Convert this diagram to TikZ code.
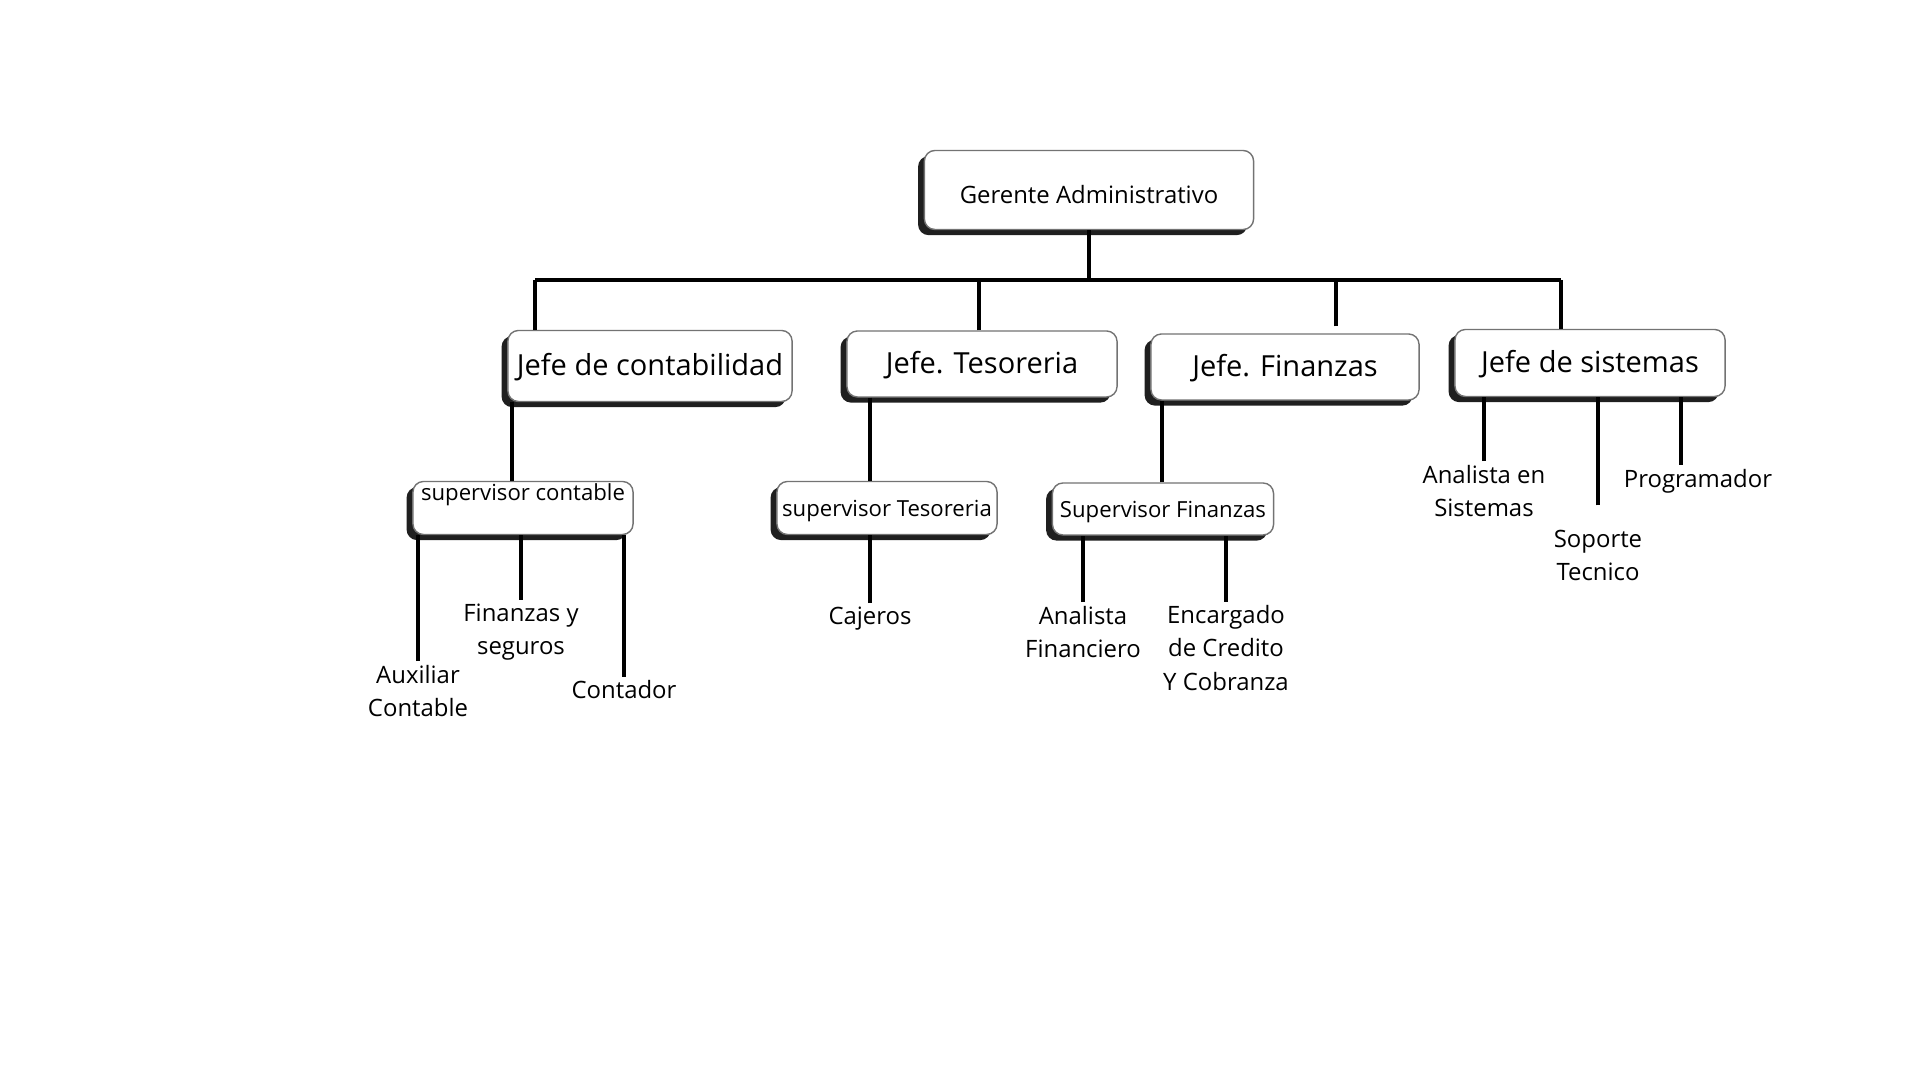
\documentclass[tikz,border=0pt]{standalone}
\usepackage{fontspec}
\setmainfont{Open Sans}
\usetikzlibrary{shadows}

\tikzset{
  caja/.style={draw=black!55, line width=0.4pt, fill=white, rounded corners=3pt,
    inner sep=0pt,
    general shadow={fill=black!88, shadow xshift=-1.8pt, shadow yshift=-1.6pt}},
  gerente/.style={caja, font=\fontsize{6.8}{8}\selectfont, text height=7.8pt, text depth=0pt},
  jefe/.style={caja, font=\fontsize{8.25}{10}\selectfont, text height=5.9pt, text depth=0.4pt},
  super/.style={caja, font=\fontsize{6.3}{8}\selectfont, text height=4.6pt, text depth=0pt},
  puesto/.style={align=center, inner sep=1pt, font=\fontsize{6.8}{9.4}\selectfont},
  linea/.style={line width=1.1pt},
}

\begin{document}
\begin{tikzpicture}[x=0.01cm,y=-0.01cm]
  \useasboundingbox (0,0) rectangle (1920,1080);

  % Gerente
  \node[gerente, minimum width=3.29cm, minimum height=0.79cm] (ger) at (1089,190) {Gerente Administrativo};

  % Jefes
  \node[jefe, minimum width=2.84cm, minimum height=0.71cm] (jcon) at (650,366) {Jefe de contabilidad};
  \node[jefe, minimum width=2.70cm, minimum height=0.66cm] (jtes) at (982,364) {Jefe. Tesoreria};
  \node[jefe, minimum width=2.68cm, minimum height=0.66cm] (jfin) at (1285,367) {Jefe. Finanzas};
  \node[jefe, minimum width=2.70cm, minimum height=0.67cm] (jsis) at (1590,363) {Jefe de sistemas};

  % Supervisores
  \node[super, minimum width=2.20cm, text height=0.19cm, text depth=0.34cm] (scon) at (523,508) {supervisor contable};
  \node[super, minimum width=2.20cm, minimum height=0.53cm] (stes) at (887,508) {supervisor Tesoreria};
  \node[super, minimum width=2.21cm, minimum height=0.52cm] (sfin) at (1163,509) {Supervisor Finanzas};

  % Puestos
  \node[puesto] (aux) at (418,691) {Auxiliar\\Contable};
  \node[puesto] (finseg) at (521,632) {Finanzas y\\seguros};
  \node[puesto] (cont) at (624,690) {Contador};
  \node[puesto] (caj) at (870,619) {Cajeros};
  \node[puesto] (anfin) at (1083,632) {Analista\\Financiero};
  \node[puesto] (encar) at (1226,648) {Encargado\\de Credito\\Y Cobranza};
  \node[puesto] (ansis) at (1484,491) {Analista en\\Sistemas};
  \node[puesto] (sop) at (1598,555) {Soporte\\Tecnico};
  \node[puesto] (prog) at (1698,481) {Programador};

  % barra principal
  \coordinate (bizq) at (535,280);
  \coordinate (bder) at (1561,280);
  \draw[linea] (bizq) -- (bder);
  \draw[linea] (ger.south) -- (ger.south |- bizq);
  \draw[linea] (bizq) -- (bizq |- jcon.north);
  \draw[linea] ([xshift=-0.03cm]jtes.north) -- ([xshift=-0.03cm]jtes.north |- bizq);
  \draw[linea, shorten <=0.07cm] ([xshift=0.51cm]jfin.north) -- ([xshift=0.51cm]jfin.north |- bder);
  \draw[linea] (bder) -- (bder |- jsis.north);

  % jefes a supervisores
  \draw[linea] ([xshift=0.05cm]jcon.south west) -- ([xshift=0.05cm]jcon.south west |- scon.north);
  \draw[linea] ([xshift=0.24cm]jtes.south west) -- ([xshift=0.24cm]jtes.south west |- stes.north);
  \draw[linea] ([xshift=-0.01cm]sfin.north) -- ([xshift=-0.01cm]sfin.north |- jfin.south);

  % supervisores a puestos
  \draw[linea] (aux.north) -- (aux.north |- scon.south);
  \draw[linea] (finseg.north) -- (finseg.north |- scon.south);
  \draw[linea] (cont.north) -- (cont.north |- scon.south);
  \draw[linea] (caj.north) -- (caj.north |- stes.south);
  \draw[linea] (anfin.north) -- (anfin.north |- sfin.south);
  \draw[linea] (encar.north) -- (encar.north |- sfin.south);

  % sistemas
  \draw[linea] (ansis.north) -- (ansis.north |- jsis.south);
  \draw[linea, shorten <=0.2cm] (sop.north) -- (sop.north |- jsis.south);
  \draw[linea] ([xshift=-0.17cm]prog.north) -- ([xshift=-0.17cm]prog.north |- jsis.south);
\end{tikzpicture}
\end{document}
